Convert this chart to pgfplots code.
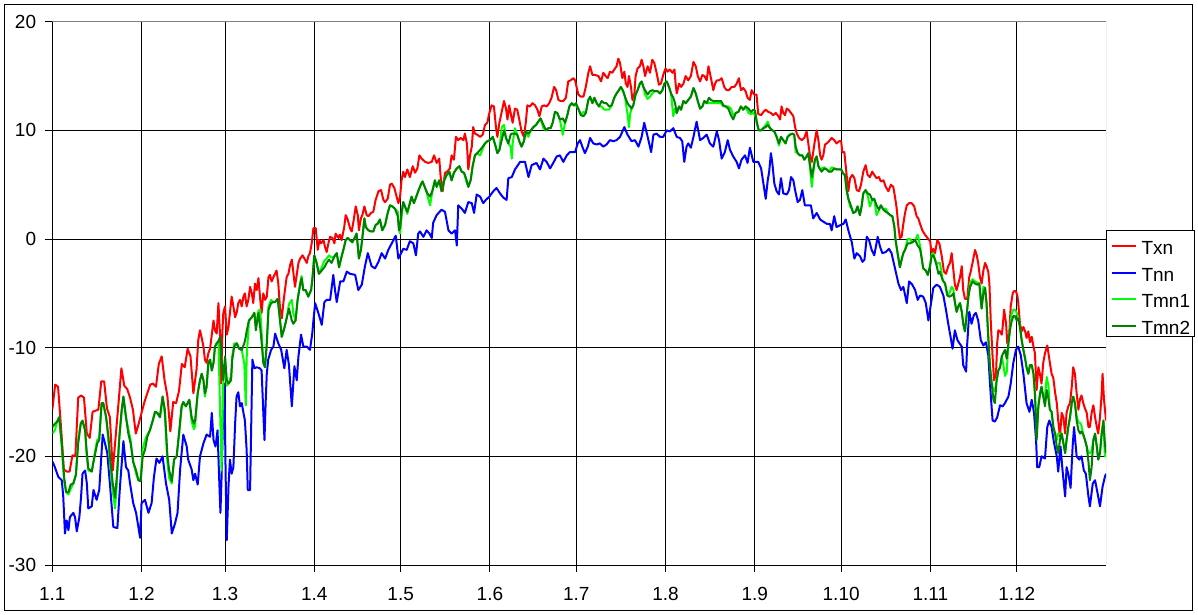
\documentclass[border=0pt]{standalone}
\usepackage{fontspec}
\setmainfont{Liberation Sans}
\usepackage{pgfplots}
\usepackage{pgfplotstable}
\pgfplotsset{compat=1.18}
\definecolor{cTx}{RGB}{255,0,0}
\definecolor{cTn}{RGB}{0,0,255}
\definecolor{cTa}{RGB}{0,255,0}
\definecolor{cTb}{RGB}{0,128,0}
\definecolor{bordergray}{RGB}{128,128,128}
\pgfplotstableread[row sep=\\]{
d a b\\
0.1 -17.3 -17.9\\ 0.9 -17.0 -17.6\\ 1.7 -16.8 -16.8\\ 2.4 -16.4 -16.4\\ 3.3 -18.8 -19.2\\ 4.1 -21.9 -22.3\\
4.8 -23.3 -23.3\\ 5.6 -23.3 -23.5\\ 6.4 -22.6 -23.0\\ 7.3 -22.5 -22.5\\ 8.2 -21.7 -21.7\\ 9.0 -18.8 -18.4\\
9.9 -17.0 -16.9\\ 10.5 -16.7 -16.8\\ 11.4 -17.6 -17.6\\ 11.9 -19.4 -19.8\\ 12.5 -21.1 -21.3\\ 13.7 -21.4 -21.4\\
14.3 -20.5 -20.5\\ 14.8 -19.9 -19.6\\ 15.6 -18.8 -18.5\\ 16.3 -18.5 -18.3\\ 17.1 -15.1 -15.4\\ 17.7 -15.1 -15.1\\
18.7 -16.4 -16.4\\ 19.5 -18.2 -18.6\\ 20.0 -19.9 -20.5\\ 21.0 -22.5 -23.2\\ 21.8 -23.8 -24.8\\ 22.4 -21.9 -22.6\\
23.3 -18.2 -18.2\\ 24.1 -15.7 -15.9\\ 24.7 -14.5 -14.5\\ 25.6 -16.4 -16.4\\ 26.4 -17.9 -17.5\\ 27.2 -18.8 -18.5\\
28.1 -20.5 -20.5\\ 29.1 -21.3 -21.6\\ 29.9 -22.2 -22.2\\ 30.7 -22.3 -22.0\\ 31.4 -20.0 -19.3\\ 32.2 -19.4 -18.5\\
33.0 -18.2 -18.0\\ 33.9 -17.6 -17.6\\ 34.9 -16.7 -16.7\\ 35.7 -15.9 -15.9\\ 36.5 -16.0 -16.0\\ 37.4 -16.4 -16.4\\
38.3 -14.5 -14.5\\ 39.1 -15.7 -16.2\\ 40.0 -20.0 -20.6\\ 40.6 -21.3 -22.0\\ 41.5 -22.3 -22.5\\ 42.3 -20.3 -20.3\\
43.2 -20.0 -20.0\\ 44.1 -17.6 -17.9\\ 44.9 -15.4 -15.6\\ 45.5 -15.0 -15.0\\ 46.4 -15.4 -15.4\\ 47.6 -14.8 -14.8\\
48.4 -16.4 -16.8\\ 49.2 -17.0 -17.5\\ 49.6 -16.7 -17.2\\ 50.5 -14.2 -14.2\\ 51.3 -13.0 -13.0\\ 51.9 -12.4 -12.4\\
52.5 -13.0 -13.0\\ 53.0 -14.2 -14.5\\ 53.6 -13.6 -13.6\\ 54.2 -11.4 -11.4\\ 54.8 -11.1 -11.1\\ 55.4 -12.1 -12.1\\
56.0 -11.4 -11.4\\ 56.5 -9.9 -9.9\\ 57.1 -9.6 -9.6\\ 57.7 -9.4 -9.4\\ 58.3 -9.0 -16.0\\ 58.8 -11.1 -21.3\\
59.4 -13.0 -13.0\\ 60.0 -10.8 -11.0\\ 60.6 -13.0 -13.5\\ 61.2 -13.3 -13.3\\ 62.1 -13.0 -12.6\\ 62.5 -11.1 -10.8\\
63.2 -9.9 -9.6\\ 64.1 -9.6 -9.6\\ 64.9 -10.1 -10.1\\ 65.8 -10.2 -10.2\\ 66.7 -9.6 -11.5\\ 67.2 -9.0 -15.3\\
67.5 -8.5 -11.0\\ 68.3 -7.5 -7.5\\ 69.3 -7.2 -7.2\\ 70.2 -6.8 -6.8\\ 70.7 -8.4 -8.0\\ 71.6 -6.8 -6.6\\
72.2 -8.1 -6.5\\ 72.7 -9.5 -8.5\\ 73.3 -11.4 -11.4\\ 73.9 -11.8 -11.8\\ 74.5 -9.6 -9.6\\ 75.1 -6.5 -6.2\\
76.0 -5.9 -5.6\\ 76.8 -5.8 -5.8\\ 77.4 -5.8 -5.8\\ 78.3 -5.5 -5.5\\ 79.1 -7.5 -7.5\\ 79.7 -9.0 -9.0\\
80.6 -8.2 -8.2\\ 81.4 -7.3 -7.3\\ 82.2 -6.4 -6.0\\ 83.2 -7.5 -5.6\\ 83.7 -7.8 -6.8\\ 84.5 -7.5 -7.5\\
85.2 -5.6 -5.6\\ 86.1 -4.2 -4.0\\ 86.6 -3.6 -3.4\\ 87.2 -4.7 -4.7\\ 88.0 -4.7 -4.7\\ 88.9 -5.3 -5.3\\
89.9 -4.7 -4.7\\ 90.3 -3.8 -3.8\\ 91.0 -1.5 -1.5\\ 91.8 -2.2 -2.2\\ 92.6 -3.2 -3.2\\ 93.6 -2.9 -2.6\\
94.5 -2.6 -2.0\\ 95.3 -2.2 -1.8\\ 96.1 -1.9 -1.5\\ 97.0 -2.2 -1.7\\ 98.0 -1.6 -1.6\\ 98.8 -1.3 -1.3\\
99.6 -2.6 -2.6\\ 100.3 -1.8 -1.8\\ 101.1 -1.0 -1.0\\ 101.9 -0.1 -0.1\\ 102.6 0.1 0.1\\ 103.4 -0.1 -0.1\\
104.2 -0.3 -0.3\\ 105.2 0.2 0.2\\ 105.7 0.5 0.5\\ 106.5 -1.8 -1.8\\ 107.2 -1.0 -1.0\\ 107.7 0.1 0.1\\
108.4 1.9 1.9\\ 108.9 1.1 1.1\\ 109.8 0.8 0.8\\ 110.7 0.7 0.7\\ 111.5 0.7 0.7\\ 112.3 1.3 1.3\\
113.0 1.4 1.4\\ 113.8 1.8 1.8\\ 114.6 0.8 0.8\\ 115.6 1.3 1.3\\ 116.5 2.4 2.4\\ 117.3 3.1 3.1\\
118.1 3.0 3.0\\ 119.0 2.8 2.8\\ 120.0 2.1 2.5\\ 120.4 0.8 1.2\\ 120.8 1.0 0.5\\ 121.3 2.4 2.0\\
121.9 3.4 3.4\\ 122.5 3.0 3.0\\ 123.3 2.5 2.3\\ 124.0 3.1 3.1\\ 124.8 3.9 3.9\\ 125.6 3.3 3.3\\
126.3 3.8 3.8\\ 127.1 4.4 4.4\\ 128.0 5.0 5.0\\ 128.6 5.3 5.3\\ 129.5 4.7 4.7\\ 130.3 4.2 4.0\\
131.2 3.9 3.1\\ 132.1 4.5 4.5\\ 132.9 5.4 5.4\\ 133.5 4.8 4.8\\ 134.4 5.4 5.4\\ 135.2 4.4 4.4\\
136.1 5.4 5.4\\ 137.0 5.9 5.9\\ 137.9 6.2 6.2\\ 138.7 5.4 5.4\\ 139.5 6.1 6.1\\ 140.5 6.5 6.5\\
141.4 6.7 6.7\\ 142.2 6.2 6.2\\ 143.0 6.1 6.1\\ 143.7 5.6 5.4\\ 144.5 4.8 4.8\\ 145.3 5.4 5.4\\
146.0 6.7 6.7\\ 146.8 7.7 7.7\\ 147.6 7.9 7.9\\ 148.6 8.2 7.7\\ 149.5 8.5 8.3\\ 150.3 8.8 8.8\\
151.1 9.0 9.0\\ 152.0 9.1 9.1\\ 153.0 9.4 9.4\\ 153.8 8.7 8.7\\ 154.6 7.9 7.9\\ 155.3 8.2 8.2\\
156.1 9.1 10.3\\ 156.9 10.0 10.5\\ 157.6 9.3 9.3\\ 158.4 8.8 8.8\\ 159.2 9.6 8.5\\ 159.6 9.7 7.4\\
159.9 9.7 8.8\\ 160.7 9.7 10.2\\ 161.5 9.6 9.6\\ 162.2 9.0 9.0\\ 163.0 8.5 8.5\\ 163.8 9.0 9.0\\
164.5 9.9 9.9\\ 165.3 9.7 9.4\\ 166.2 10.0 10.0\\ 167.1 10.3 10.3\\ 168.0 10.5 10.5\\ 168.8 10.8 10.8\\
169.6 11.1 11.1\\ 170.6 10.5 10.2\\ 171.5 10.0 10.0\\ 172.3 10.2 10.2\\ 173.1 10.2 10.2\\ 173.8 10.7 10.7\\
174.6 11.7 11.7\\ 175.4 11.6 11.6\\ 176.3 11.0 11.0\\ 177.3 11.1 9.6\\ 178.1 10.7 10.7\\ 178.9 11.4 11.4\\
179.6 12.2 12.2\\ 180.4 12.5 12.5\\ 181.2 12.3 12.3\\ 181.9 12.5 12.3\\ 182.7 12.0 12.0\\ 183.6 11.4 11.4\\
184.5 11.3 11.7\\ 185.3 11.6 11.6\\ 186.2 12.8 12.8\\ 186.8 13.1 13.1\\ 187.6 12.5 12.5\\ 188.3 13.0 13.0\\
189.1 12.5 12.5\\ 189.9 12.2 12.2\\ 190.8 12.7 12.2\\ 191.7 12.5 11.9\\ 192.5 12.5 11.9\\ 193.4 12.2 11.9\\
194.3 12.3 12.3\\ 195.2 13.0 13.0\\ 196.0 13.4 13.4\\ 196.8 13.7 13.7\\ 197.5 14.0 14.0\\ 198.3 13.6 13.6\\
198.9 13.1 13.1\\ 199.8 12.5 11.5\\ 200.3 12.3 10.3\\ 200.7 12.2 11.5\\ 201.2 12.0 12.0\\ 201.8 12.3 12.3\\
202.6 13.3 13.3\\ 203.3 13.7 13.7\\ 204.1 14.3 14.3\\ 204.7 14.5 14.5\\ 205.3 14.0 14.0\\ 205.9 13.7 13.3\\
206.8 13.3 12.9\\ 207.6 13.6 13.1\\ 208.4 13.7 13.4\\ 209.3 13.6 13.6\\ 210.3 13.6 13.6\\ 211.1 13.4 13.4\\
211.9 13.7 13.7\\ 212.6 14.3 14.3\\ 213.4 14.5 14.5\\ 214.2 14.0 14.0\\ 214.9 13.4 13.4\\ 215.7 13.0 11.3\\
216.3 12.5 12.0\\ 216.9 11.6 11.6\\ 217.7 12.2 12.2\\ 218.4 11.9 11.9\\ 219.2 12.7 12.7\\ 220.0 12.5 12.5\\
220.9 12.8 12.8\\ 221.8 13.1 13.1\\ 222.7 13.9 13.9\\ 223.5 13.4 13.4\\ 224.2 12.7 12.7\\ 225.0 12.0 12.0\\
225.8 12.2 12.2\\ 226.5 12.7 12.7\\ 227.3 12.5 12.5\\ 228.1 13.0 12.5\\ 228.8 12.8 12.5\\ 229.6 12.7 12.5\\
230.4 12.7 12.5\\ 231.3 12.7 12.5\\ 232.3 12.7 12.5\\ 233.1 12.3 12.2\\ 233.9 12.2 12.2\\ 234.8 12.0 12.2\\
235.7 11.4 12.0\\ 236.5 11.0 11.4\\ 237.4 11.6 11.6\\ 238.3 11.7 11.7\\ 239.2 12.2 12.2\\ 240.0 11.9 11.9\\
240.8 12.2 12.2\\ 241.8 12.0 11.6\\ 242.7 11.7 11.5\\ 243.5 11.9 11.6\\ 244.1 11.8 11.4\\ 244.7 10.8 10.6\\
245.4 10.0 10.0\\ 246.2 10.0 10.0\\ 247.0 10.2 10.2\\ 247.8 10.3 10.5\\ 248.5 10.5 10.8\\ 249.3 10.2 10.2\\
250.1 10.0 10.0\\ 250.8 9.9 9.9\\ 251.6 9.4 9.4\\ 252.4 8.8 8.6\\ 253.1 9.4 9.4\\ 253.9 9.1 9.1\\
254.7 8.8 8.8\\ 255.4 9.4 9.4\\ 256.2 9.6 9.6\\ 257.1 9.7 9.7\\ 257.7 9.6 9.6\\ 258.2 8.5 8.0\\
258.9 7.9 7.9\\ 259.7 7.7 7.7\\ 260.5 7.7 7.7\\ 261.2 7.3 7.3\\ 262.0 7.6 7.6\\ 262.6 7.9 7.9\\
263.2 6.8 6.5\\ 263.8 5.7 4.8\\ 264.3 6.4 6.0\\ 264.9 7.3 7.3\\ 265.5 7.6 7.6\\ 266.1 6.7 6.7\\
266.7 6.4 6.4\\ 267.2 6.2 6.5\\ 268.2 6.5 6.6\\ 269.0 6.4 6.4\\ 269.8 6.2 6.2\\ 270.7 6.2 6.6\\
271.6 6.5 6.5\\ 272.4 6.4 6.4\\ 273.3 6.4 6.4\\ 274.0 6.4 6.4\\ 274.8 6.0 6.0\\ 275.3 5.9 5.9\\
275.9 4.5 4.5\\ 276.5 3.7 3.7\\ 277.1 3.3 3.0\\ 277.7 2.8 2.8\\ 278.2 2.4 2.4\\ 279.0 2.5 2.5\\
279.7 3.0 3.0\\ 280.5 2.2 2.2\\ 281.1 3.0 3.0\\ 281.7 4.2 4.2\\ 282.5 4.5 4.5\\ 283.2 4.2 4.0\\
284.0 4.1 3.0\\ 284.8 3.6 3.6\\ 285.5 3.7 3.7\\ 286.3 3.1 2.2\\ 287.1 2.7 2.6\\ 287.8 3.1 3.1\\
288.7 2.7 2.7\\ 289.5 2.5 2.8\\ 290.2 2.4 2.4\\ 291.0 2.2 2.2\\ 291.8 2.1 2.1\\ 292.5 1.1 1.1\\
292.9 -0.1 -0.1\\ 293.6 -1.3 -1.3\\ 294.4 -2.6 -2.6\\ 295.0 -1.9 -1.9\\ 295.6 -1.3 -1.3\\ 296.2 -1.0 -1.0\\
297.1 -0.4 0.0\\ 297.9 -0.4 0.0\\ 298.7 -0.3 -0.3\\ 299.7 -0.1 -0.1\\ 300.6 -0.6 0.4\\ 301.4 -0.9 -0.6\\
302.0 -1.8 -1.8\\ 302.5 -2.7 -2.7\\ 303.4 -2.9 -2.9\\ 304.1 -3.3 -3.3\\ 304.9 -2.5 -2.4\\ 305.4 -1.6 -1.4\\
306.0 -1.5 -1.3\\ 306.6 -1.9 -1.9\\ 307.2 -2.5 -2.3\\ 307.8 -3.2 -2.2\\ 308.3 -3.0 -2.2\\ 309.3 -3.8 -3.8\\
310.1 -4.1 -4.1\\ 310.9 -5.2 -5.2\\ 311.6 -5.3 -5.0\\ 312.4 -5.2 -4.4\\ 313.0 -5.0 -4.6\\ 313.5 -5.8 -5.8\\
314.1 -6.7 -6.7\\ 314.7 -6.2 -6.2\\ 315.3 -5.9 -5.9\\ 315.9 -6.7 -6.7\\ 316.4 -7.8 -7.8\\ 317.0 -8.5 -8.5\\
317.6 -7.0 -7.0\\ 318.2 -5.3 -5.3\\ 318.8 -4.4 -4.0\\ 319.7 -3.9 -3.7\\ 320.5 -4.1 -3.9\\ 321.3 -4.2 -4.0\\
322.0 -4.1 -4.1\\ 322.5 -5.6 -5.6\\ 322.8 -6.4 -6.4\\ 323.4 -5.0 -4.4\\ 324.0 -4.5 -4.5\\ 324.5 -5.9 -5.9\\
325.1 -9.0 -9.0\\ 325.7 -11.8 -11.8\\ 326.3 -13.3 -13.3\\ 326.9 -14.8 -13.9\\ 327.4 -15.1 -14.0\\ 328.0 -13.0 -13.0\\
328.6 -12.1 -12.1\\ 329.2 -11.8 -11.8\\ 329.8 -10.8 -10.8\\ 330.3 -10.5 -11.5\\ 330.9 -10.2 -12.6\\ 331.5 -11.0 -12.3\\
332.1 -9.6 -9.6\\ 332.6 -8.4 -8.4\\ 333.2 -7.6 -6.9\\ 333.8 -7.1 -6.5\\ 334.4 -7.1 -6.5\\ 335.0 -7.5 -6.8\\
335.5 -7.3 -7.3\\ 336.1 -8.1 -8.1\\ 336.7 -9.3 -9.3\\ 337.3 -10.2 -10.2\\ 337.9 -11.0 -11.0\\ 338.4 -11.8 -11.8\\
339.0 -12.4 -12.4\\ 339.6 -11.6 -11.6\\ 340.2 -11.6 -11.6\\ 340.8 -12.4 -12.4\\ 341.3 -14.2 -14.2\\ 341.7 -16.7 -16.7\\
341.9 -18.5 -18.2\\ 342.5 -15.4 -15.4\\ 343.1 -14.2 -14.2\\ 343.6 -13.6 -13.6\\ 344.2 -14.5 -14.5\\ 344.8 -15.4 -14.5\\
345.4 -13.9 -12.7\\ 346.0 -14.7 -13.5\\ 346.5 -15.7 -15.7\\ 347.1 -15.9 -15.9\\ 347.7 -17.3 -17.3\\ 348.3 -17.9 -17.9\\
348.9 -19.1 -18.5\\ 349.4 -19.7 -17.9\\ 350.0 -18.5 -17.9\\ 350.6 -17.9 -17.9\\ 351.2 -18.8 -18.8\\ 351.8 -19.7 -19.7\\
352.3 -18.5 -18.5\\ 352.9 -17.3 -17.3\\ 353.5 -16.4 -16.4\\ 354.1 -15.1 -15.1\\ 354.6 -14.5 -14.5\\ 355.2 -15.1 -15.1\\
355.8 -16.7 -16.3\\ 356.4 -17.6 -16.9\\ 357.0 -17.9 -16.9\\ 357.5 -17.7 -17.2\\ 358.1 -18.0 -18.0\\ 358.7 -18.5 -18.5\\
359.3 -19.1 -19.1\\ 359.9 -20.5 -19.7\\ 360.4 -22.2 -19.7\\ 361.0 -21.0 -19.5\\ 361.6 -18.5 -18.5\\ 362.2 -17.9 -18.0\\
362.8 -19.1 -19.1\\ 363.3 -20.3 -20.3\\ 363.9 -19.7 -19.7\\ 364.5 -17.9 -17.9\\ 365.1 -16.7 -16.7\\ 365.6 -18.8 -20.0\\
366.0 -19.7 -20.0\\
}\tmn
\begin{document}
\begin{tikzpicture}
\useasboundingbox (-26.15pt,-25pt) rectangle (572.85pt,282.5pt);
\draw[black,line width=0.5pt] (-23.65pt,-22.5pt) rectangle (569.85pt,280pt);
\begin{axis}[
  at={(0pt,0pt)}, anchor=south west,
  scale only axis, width=526.85pt, height=271.65pt,
  xmin=0, xmax=366, ymin=-30, ymax=20,
  axis x line*=bottom, axis y line*=left,
  axis line style={black, line width=0.5pt},
  xtick={0,31,60,91,121,152,182,213,244,274,305,335},
  xticklabels={1.1,1.2,1.3,1.4,1.5,1.6,1.7,1.8,1.9,1.10,1.11,1.12},
  ytick={-30,-20,-10,0,10,20},
  yticklabels={-30,-20,-10,0,10,20},
  grid=major, major grid style={black, line width=0.5pt},
  tick align=outside, major tick length=3.5pt,
  tick style={black, line width=0.5pt},
  ticklabel style={font=\fontsize{9.5}{11}\selectfont, inner sep=0pt},
  yticklabel style={anchor=east, xshift=-4.4pt},
  xticklabel style={anchor=north, yshift=-7.35pt},
  legend style={at={(rel axis cs:1,0.6166)}, anchor=north west, draw=black, line width=0.5pt, fill=white,
    inner xsep=2pt, inner ysep=0pt, row sep=0pt, column sep=2.5pt,
    font=\fontsize{9.5}{11}\selectfont,
    nodes={inner sep=0pt, text height=12pt, text depth=1.3pt, anchor=base west}},
  legend cell align=left,
  legend image code/.code={\draw[#1, line width=1pt] (0pt,4.3pt) -- (12pt,4.3pt);},
  every axis plot/.append style={line width=1pt, line join=round},
]
\addplot[cTx] coordinates {
(0,-15.7) (1,-13.4) (2,-13.6) (3,-17.2) (4,-21.2) (5,-21.4) (6,-21.4) (7,-19.9) (8,-20.0) (9,-14.6)
(10,-14.4) (11,-14.6) (12,-17.9) (13,-18.3) (14,-15.9) (15,-15.8) (16,-15.7) (17,-13.1) (18,-13.1) (19,-15.6)
(20,-16.4) (21,-21.3) (22,-18.2) (23,-15.1) (24,-11.9) (25,-13.5) (26,-13.8) (27,-14.6) (28,-15.7) (29,-17.9)
(30,-17.0) (31,-16.0) (32,-15.0) (33,-14.2) (34,-13.4) (35,-13.3) (36,-13.6) (37,-11.5) (38,-10.8) (39,-13.0)
(40,-14.5) (41,-17.7) (42,-15.0) (43,-15.1) (44,-14.0) (45,-11.5) (46,-11.8) (47,-10.1) (48,-10.8) (49,-14.2)
(50.1,-12.0) (50.7,-9.3) (51.3,-8.4) (51.9,-9.1) (52.5,-9.9) (53.0,-11.1) (53.6,-11.4) (54.2,-10.5) (54.8,-10.1)
(55.4,-8.8) (56.0,-7.5) (56.5,-8.4) (57.1,-8.7) (57.7,-5.9) (58.3,-9.0) (58.6,-13.3) (59.1,-8.4) (59.4,-6.8)
(60.0,-6.2) (60.6,-8.8) (61.2,-8.1) (61.7,-6.8) (62.3,-5.3) (62.9,-6.2) (63.5,-7.2) (64.1,-6.7) (64.6,-5.9)
(65.2,-5.6) (65.8,-6.2) (66.4,-5.3) (66.9,-5.0) (67.5,-6.2) (68.1,-5.6) (68.7,-4.4) (69.3,-5.0) (69.8,-5.9)
(70.4,-4.1) (71.0,-4.7) (71.6,-3.6) (72.2,-5.5) (72.7,-6.8) (73.3,-5.0) (73.9,-5.6) (74.5,-5.3) (75.1,-3.5)
(75.6,-3.3) (76.2,-3.9) (76.8,-3.5) (77.9,-2.9) (78.5,-4.1) (79.1,-6.4) (79.7,-7.3) (80.3,-5.8) (80.8,-4.7)
(81.4,-3.5) (82.0,-3.2) (82.6,-2.4) (83.2,-1.9) (83.7,-3.0) (84.3,-4.4) (84.9,-3.3) (85.5,-2.2) (86.1,-1.8)
(86.9,-1.5) (87.8,-1.9) (88.4,-2.2) (88.9,-1.6) (89.5,-1.3) (90.1,-0.4) (90.7,1.0) (91.5,1.0) (92.2,-1.0)
(92.8,-0.1) (93.3,-0.4) (94.2,-0.1) (94.7,-0.7) (95.3,-1.2) (95.9,-0.4) (96.5,0.2) (97.3,0.1) (98.0,-0.4)
(98.4,0.5) (99.4,0.1) (99.9,0.4) (100.5,-0.1) (101.4,1.1) (101.9,2.2) (102.6,1.8) (103.4,1.0) (104.0,0.7)
(104.6,1.6) (105.4,3.0) (106.1,2.2) (106.5,0.8) (107.2,1.9) (107.7,2.2) (108.4,3.0) (109.2,2.2) (109.8,2.1)
(110.7,2.4) (111.5,2.5) (112.3,3.6) (113.3,4.4) (114.2,4.5) (115.0,3.6) (115.6,3.4) (116.5,3.7) (117.3,5.0)
(117.9,5.1) (118.8,4.7) (119.6,3.9) (120.2,3.3) (120.8,3.9) (121.3,5.4) (121.9,6.2) (122.5,5.7) (123.3,6.4)
(124.2,5.7) (125.2,6.7) (126.0,6.1) (126.8,6.5) (127.5,7.7) (128.3,7.4) (129.5,7.1) (130.6,7.0) (131.8,7.1)
(132.6,7.7) (133.5,7.0) (134.4,7.4) (134.9,5.7) (135.6,4.4) (136.4,6.1) (137.2,6.2) (138.1,6.5) (138.7,7.7)
(139.5,7.3) (140.2,9.4) (141.0,9.1) (141.8,9.3) (142.8,9.1) (143.3,9.7) (144.0,8.8) (144.5,6.4) (145.1,7.7)
(145.7,8.5) (146.2,10.3) (146.8,9.7) (147.6,9.6) (148.6,9.4) (149.5,9.6) (150.3,10.5) (151.1,10.7) (151.8,11.6)
(152.6,12.3) (153.4,12.2) (154.1,10.3) (154.6,9.4) (155.3,10.7) (156.1,11.7) (156.9,12.7) (157.6,12.0) (158.1,11.0)
(158.7,12.3) (159.2,11.6) (159.9,10.7) (160.7,12.0) (161.5,11.9) (162.2,11.0) (163.0,9.9) (163.8,9.4) (164.5,10.8)
(165.0,12.3) (165.9,12.2) (166.8,12.5) (167.7,12.3) (168.5,11.9) (169.2,11.3) (170.0,12.2) (170.8,12.3) (171.7,12.2)
(172.6,12.5) (173.4,13.0) (174.3,14.0) (175.0,13.7) (175.8,12.8) (176.6,12.7) (177.5,12.7) (178.4,13.0) (179.2,14.5)
(180.0,14.6) (181.0,14.8) (181.6,14.6) (182.1,14.0) (182.7,13.3) (183.6,13.1) (184.5,13.1) (185.3,14.0) (186.2,15.3)
(186.8,15.9) (187.6,15.1) (188.5,15.1) (189.7,15.0) (190.6,14.5) (191.4,15.3) (192.2,15.0) (192.9,14.8) (193.7,15.4)
(194.5,15.3) (195.2,15.6) (196.0,15.9) (196.6,16.6) (197.2,16.2) (198.0,14.8) (198.7,15.4) (199.2,14.3) (199.8,14.0)
(200.3,15.0) (201.0,14.0) (201.5,12.8) (202.2,13.4) (202.6,15.0) (203.3,15.7) (204.1,15.9) (204.7,16.5) (205.3,15.9)
(205.9,15.0) (206.8,15.9) (207.6,15.3) (208.4,16.5) (209.1,16.2) (209.9,15.3) (210.7,14.2) (211.4,14.3) (212.2,15.1)
(213.0,15.7) (213.7,15.4) (214.5,15.6) (215.4,15.3) (216.1,15.6) (216.5,14.3) (216.9,13.4) (217.7,14.3) (218.4,14.0)
(219.2,14.3) (220.0,15.0) (220.9,14.6) (221.8,15.0) (222.7,16.3) (223.5,15.9) (224.2,15.0) (225.0,14.5) (225.8,15.1)
(226.5,15.0) (227.3,14.6) (227.9,15.9) (228.4,15.3) (229.0,14.5) (229.6,13.7) (230.2,14.3) (230.8,14.6) (231.6,14.6)
(232.5,14.8) (233.4,14.0) (234.2,13.7) (235.0,13.7) (236.0,14.0) (236.9,14.0) (237.7,14.3) (238.5,14.8) (239.2,13.7)
(240.0,13.9) (240.8,13.6) (241.5,13.0) (242.3,12.8) (242.9,13.7) (243.8,13.3) (244.6,13.3) (245.2,11.5) (246.2,11.4)
(247.0,11.7) (247.8,11.9) (248.7,11.7) (249.6,11.6) (250.4,11.4) (251.3,11.6) (252.2,11.3) (252.8,11.0) (253.3,12.2)
(253.9,11.6) (254.5,11.4) (255.1,12.0) (255.7,11.9) (256.6,11.6) (257.4,11.3) (258.0,10.3) (258.6,9.7) (259.4,9.3)
(260.3,9.1) (261.2,9.3) (262.0,9.9) (262.6,8.8) (263.2,7.6) (263.8,7.1) (264.3,8.0) (264.9,9.1) (265.5,10.0)
(266.1,9.1) (266.7,7.7) (267.2,7.3) (267.8,7.7) (268.4,8.7) (269.0,8.8) (269.8,9.0) (270.7,9.3) (271.6,9.1)
(272.4,8.8) (273.3,9.0) (274.0,9.0) (274.4,8.0) (275.1,8.0) (275.9,5.9) (276.5,4.4) (277.1,5.6) (277.9,5.9)
(278.6,5.6) (279.4,4.5) (280.2,4.4) (280.9,5.0) (281.7,6.2) (282.5,6.8) (283.2,5.9) (284.0,5.7) (284.8,6.2)
(285.5,5.9) (286.3,5.6) (287.1,5.7) (287.8,5.3) (288.7,5.4) (289.5,4.8) (290.4,4.4) (291.3,5.0) (292.1,4.8)
(292.7,3.9) (293.3,2.8) (293.9,1.1) (294.4,0.1) (295.0,0.2) (295.6,1.4) (296.2,2.4) (296.8,3.1) (297.6,3.3)
(298.5,3.3) (299.4,3.0) (300.2,2.1) (300.8,1.9) (301.4,1.4) (302.2,0.8) (303.1,0.4) (304.0,0.1) (304.9,-0.2)
(305.4,-1.3) (306.0,-0.9) (306.6,-1.3) (307.4,-0.1) (308.1,-0.4) (308.9,-1.5) (309.7,-3.0) (310.4,-3.2) (311.2,-2.5)
(311.8,-2.2) (312.4,-1.3) (313.0,-2.9) (313.5,-4.2) (314.1,-4.7) (314.7,-4.1) (315.3,-3.5) (315.9,-2.5) (316.4,-4.7)
(317.0,-5.5) (317.8,-5.5) (318.5,-3.5) (319.0,-3.0) (319.7,-2.1) (320.5,-1.0) (321.1,-1.5) (321.6,-2.2) (322.2,-3.5)
(322.8,-4.1) (323.4,-2.9) (324.0,-2.2) (324.5,-2.5) (325.1,-3.0) (325.5,-4.1) (326.0,-7.8) (326.6,-10.8) (327.1,-13.0)
(327.8,-12.4) (328.2,-9.6) (328.6,-8.4) (329.2,-8.5) (329.8,-8.8) (330.1,-8.1) (330.6,-6.5) (331.3,-7.8) (331.7,-9.6)
(332.4,-8.7) (332.9,-6.2) (333.6,-5.0) (334.0,-4.8) (334.7,-4.8) (335.2,-5.2) (335.5,-5.8) (336.1,-7.8) (336.7,-8.5)
(337.3,-8.1) (337.9,-8.5) (338.4,-9.1) (339.0,-8.5) (339.6,-9.5) (340.2,-9.0) (340.8,-9.9) (341.3,-10.5) (341.9,-13.9)
(342.5,-11.8) (343.1,-12.5) (343.6,-13.3) (344.2,-11.4) (344.8,-10.5) (345.6,-9.8) (346.0,-10.5) (346.5,-11.4) (347.1,-12.4)
(347.7,-12.8) (348.3,-14.1) (348.9,-15.1) (349.4,-16.7) (350.0,-18.2) (350.6,-16.0) (351.2,-16.4) (351.8,-17.9) (352.3,-16.0)
(352.9,-15.4) (353.5,-15.1) (354.1,-13.6) (354.6,-11.8) (355.2,-12.4) (355.8,-14.2) (356.4,-15.7) (357.0,-14.7) (357.5,-14.4)
(358.1,-15.1) (358.7,-15.6) (359.3,-16.0) (359.9,-17.3) (360.4,-17.3) (361.0,-16.0) (361.6,-15.3) (362.2,-16.4) (362.8,-17.3)
(363.3,-17.9) (363.9,-16.4) (364.5,-14.2) (364.8,-12.4) (365.3,-14.8) (366.0,-16.7)
};
\addlegendentry{Txn}
\addplot[cTn] coordinates {
(0.1,-20.5) (0.9,-21.0) (2.1,-21.9) (3.3,-22.2) (3.8,-23.7) (4.4,-27.1) (5.0,-25.9) (5.6,-26.8) (6.1,-25.6)
(7.3,-25.2) (7.9,-25.6) (8.5,-26.9) (9.4,-25.6) (10.0,-23.7) (10.5,-21.6) (11.4,-21.3) (12.0,-22.5) (12.5,-24.8)
(13.7,-24.6) (14.3,-23.1) (15.4,-24.0) (16.3,-23.1) (16.8,-21.0) (17.5,-18.0) (18.3,-18.8) (19.1,-19.7) (20.0,-22.5)
(21.2,-26.5) (22.6,-26.6) (23.5,-22.8) (24.7,-18.6) (25.6,-21.0) (26.4,-21.3) (27.0,-22.5) (28.1,-24.3) (29.1,-25.2)
(29.9,-26.5) (30.5,-27.5) (31.0,-24.3) (32.2,-24.0) (33.4,-25.2) (34.5,-24.3) (35.3,-21.9) (36.2,-20.2) (37.2,-20.6)
(38.3,-20.0) (39.5,-22.5) (40.6,-24.0) (41.5,-27.1) (42.6,-26.2) (43.5,-25.2) (44.4,-21.2) (45.5,-18.0) (46.7,-19.1)
(47.2,-20.3) (48.4,-21.2) (49.0,-22.2) (49.6,-21.6) (50.5,-22.6) (51.3,-20.0) (52.5,-18.8) (53.6,-18.0) (54.8,-18.2)
(55.4,-16.0) (56.0,-18.5) (56.7,-19.1) (57.4,-17.6) (57.9,-21.6) (58.4,-25.2) (58.8,-21.9) (59.4,-15.4) (59.8,-13.3)
(60.2,-21.6) (60.6,-27.7) (61.2,-22.8) (61.7,-20.3) (62.3,-21.6) (62.9,-21.0) (63.5,-17.0) (64.0,-14.5) (64.6,-14.1)
(65.2,-15.4) (65.8,-15.1) (66.4,-16.0) (66.9,-16.7) (67.5,-19.4) (67.9,-23.1) (68.7,-23.1) (69.0,-18.5) (69.5,-11.1)
(70.2,-11.9) (71.0,-11.8) (72.1,-11.9) (72.7,-12.1) (73.3,-16.0) (73.7,-18.5) (74.1,-15.1) (74.5,-12.4) (75.0,-11.1)
(76.0,-10.2) (76.8,-9.9) (77.4,-8.7) (78.5,-9.6) (79.5,-10.2) (80.6,-11.9) (81.4,-10.2) (82.2,-11.6) (83.2,-15.4)
(84.1,-11.7) (84.9,-13.0) (85.5,-10.8) (86.4,-8.8) (87.2,-9.9) (88.4,-9.9) (89.5,-10.2) (90.3,-8.7) (90.7,-7.5)
(91.3,-5.9) (92.4,-6.8) (93.6,-7.9) (94.5,-5.8) (95.3,-5.6) (96.5,-5.6) (97.6,-3.3) (98.2,-4.7) (98.8,-5.8)
(100.0,-3.9) (101.1,-3.9) (102.3,-3.0) (103.4,-3.2) (105.2,-3.3) (106.3,-4.7) (107.5,-4.2) (108.6,-2.5) (109.6,-1.3)
(110.9,-2.5) (112.1,-2.7) (113.3,-2.1) (114.4,-1.3) (115.6,-1.8) (116.7,-1.0) (117.9,-0.4) (119.3,0.3) (120.2,-1.8)
(121.9,-0.9) (123.1,-1.0) (124.2,-0.2) (125.4,-0.4) (126.3,-1.5) (127.1,0.5) (127.7,0.7) (128.9,0.2) (130.0,0.8)
(131.0,0.5) (131.8,0.1) (132.3,1.5) (133.5,2.2) (135.2,2.7) (136.4,2.5) (137.6,0.8) (138.7,0.5) (139.9,0.8)
(140.5,-0.6) (141.0,3.1) (142.2,2.8) (143.3,2.4) (144.5,3.4) (145.7,3.3) (146.5,2.4) (147.4,4.1) (148.6,3.9)
(149.7,3.3) (150.6,3.6) (151.8,3.9) (153.2,4.4) (154.3,4.7) (155.5,4.2) (156.7,3.8) (157.8,3.6) (158.4,5.6)
(159.6,5.7) (160.7,6.4) (162.5,7.1) (164.2,7.1) (165.4,5.7) (166.5,6.8) (168.2,7.0) (169.4,6.4) (170.6,7.4)
(171.7,7.1) (172.9,6.5) (174.0,7.0) (175.2,7.6) (176.3,7.7) (177.5,7.1) (178.7,7.7) (179.8,8.0) (181.6,8.0)
(182.5,8.8) (183.3,9.1) (184.1,8.5) (185.0,7.9) (186.0,8.5) (186.8,9.3) (187.9,8.8) (189.1,8.7) (190.2,8.8)
(191.4,8.5) (192.5,8.7) (193.7,9.1) (194.9,9.0) (196.0,9.1) (197.2,9.4) (198.7,10.3) (199.8,9.6) (201.2,9.0)
(202.4,9.1) (203.6,8.5) (204.7,9.4) (205.6,10.7) (206.8,9.4) (208.0,8.0) (208.8,9.6) (209.9,9.7) (211.1,9.4)
(212.2,9.4) (213.4,10.0) (214.5,9.9) (215.7,10.2) (216.9,9.4) (218.0,9.3) (218.8,9.0) (219.5,7.1) (220.3,8.5)
(220.9,8.8) (221.8,8.4) (222.7,9.4) (223.8,10.8) (225.0,9.1) (226.1,9.3) (227.3,9.6) (228.4,8.8) (229.6,8.5)
(230.8,9.9) (231.6,9.1) (232.5,7.4) (233.6,8.0) (234.6,9.1) (235.4,8.2) (236.5,7.6) (237.7,7.1) (238.5,6.5)
(239.4,7.3) (240.6,7.7) (241.5,7.0) (242.3,8.4) (243.5,7.1) (244.1,7.1) (245.2,7.1) (246.2,6.5) (247.0,5.1)
(247.8,3.7) (248.5,5.4) (249.0,6.2) (249.6,7.9) (250.1,7.0) (250.8,5.1) (251.6,4.4) (252.4,4.1) (253.1,5.6)
(253.9,4.2) (255.1,4.1) (255.9,4.5) (256.6,5.7) (257.4,5.4) (258.0,4.5) (258.9,3.4) (259.7,3.6) (260.5,4.5)
(261.4,3.1) (262.6,3.1) (263.5,3.1) (264.3,1.9) (265.5,2.4) (266.7,1.8) (267.8,1.6) (269.0,1.4) (270.1,1.4)
(270.7,0.8) (271.6,2.1) (272.4,1.1) (273.9,1.3) (274.8,1.4) (275.6,1.8) (276.5,0.8) (277.7,-0.3) (278.6,-1.8)
(279.4,-1.3) (280.6,-1.6) (281.4,-2.1) (282.1,-1.9) (282.9,0.2) (283.7,-0.1) (284.6,-1.0) (285.5,-1.5) (286.7,0.2)
(287.5,-0.7) (288.3,-1.3) (289.5,-1.2) (290.6,-0.9) (291.5,-1.3) (292.7,-2.7) (293.9,-4.1) (294.8,-4.7) (295.6,-4.4)
(296.8,-5.9) (297.6,-3.9) (298.7,-4.2) (299.7,-4.7) (300.6,-5.6) (301.4,-5.2) (302.5,-5.3) (303.4,-5.9) (304.3,-7.5)
(305.4,-5.6) (306.0,-4.5) (307.2,-4.2) (308.3,-4.4) (309.5,-5.2) (310.4,-6.5) (311.2,-7.8) (312.0,-9.0) (312.7,-10.1)
(313.5,-8.4) (314.4,-9.3) (315.1,-9.6) (315.9,-9.9) (316.4,-11.6) (317.4,-12.2) (317.8,-9.6) (318.5,-6.7) (319.3,-7.8)
(320.1,-7.0) (320.8,-6.8) (321.6,-7.5) (322.5,-9.3) (323.4,-9.8) (324.3,-9.5) (325.1,-10.7) (325.9,-14.1) (326.6,-16.7)
(327.4,-16.8) (328.2,-16.4) (329.2,-15.3) (330.1,-15.4) (330.9,-15.1) (332.1,-14.5) (332.9,-13.3) (333.8,-11.4) (334.7,-10.2)
(335.5,-9.9) (336.4,-10.7) (337.3,-12.4) (338.4,-15.1) (339.4,-15.9) (340.2,-14.8) (341.0,-16.0) (341.7,-18.5) (342.1,-21.0)
(342.8,-21.0) (343.6,-20.0) (344.8,-20.2) (345.6,-17.3) (346.3,-16.7) (347.1,-17.3) (347.9,-18.7) (348.9,-20.0) (349.4,-21.4)
(350.2,-19.1) (350.9,-21.3) (351.8,-23.7) (352.3,-21.0) (352.9,-21.6) (353.7,-22.9) (354.4,-19.1) (354.9,-17.3) (355.8,-20.0)
(356.7,-20.3) (357.5,-20.0) (358.3,-21.3) (359.0,-21.6) (359.9,-23.7) (360.4,-24.6) (361.4,-22.5) (362.2,-22.2) (363.0,-23.3)
(363.9,-24.6) (364.8,-22.8) (365.6,-21.9) (366.0,-21.6)
};
\addlegendentry{Tnn}
\addplot[cTa] table[x=d, y=b] {\tmn};
\addlegendentry{Tmn1}
\addplot[cTb] table[x=d, y=a] {\tmn};
\addlegendentry{Tmn2}
\draw[bordergray, line width=0.5pt] (rel axis cs:0,1) -- (rel axis cs:1,1) -- (rel axis cs:1,0);
\end{axis}
\end{tikzpicture}
\end{document}
